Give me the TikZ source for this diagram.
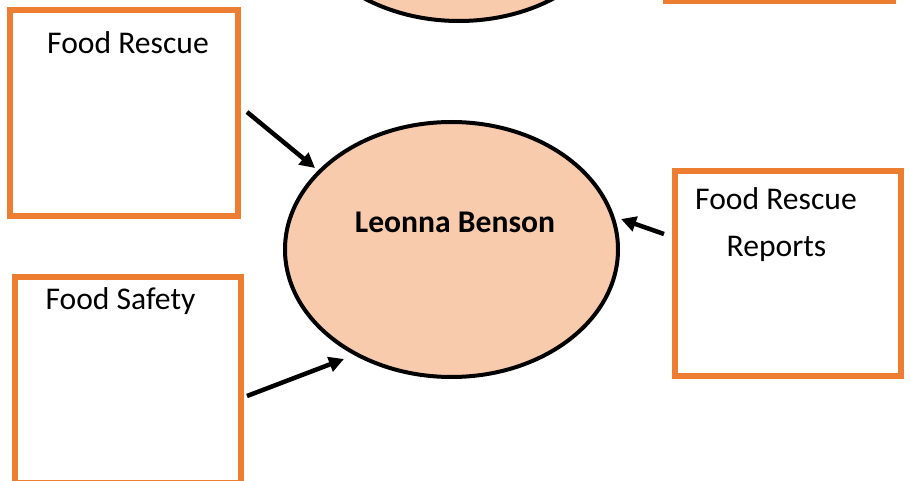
\documentclass[tikz,border=0pt]{standalone}
\usepackage{fontspec}
\setmainfont{Carlito}
\usetikzlibrary{shapes.geometric,arrows.meta}
\definecolor{boxorange}{HTML}{ED7D31}
\definecolor{peach}{HTML}{F8CBAD}
\tikzset{
  obox/.style={draw=boxorange, line width=6pt, fill=white, rectangle, inner sep=0pt},
  pell/.style={draw=black, line width=4pt, fill=peach, ellipse, inner sep=0pt,
               minimum width=333pt, minimum height=255pt},
  lbl/.style={anchor=base, inner sep=0pt, font=\fontsize{31.6}{38}\selectfont},
  arr/.style={line width=4.5pt, -{Triangle[length=15pt,width=15pt]}}
}
\begin{document}
\begin{tikzpicture}[x=1pt,y=-1pt]
\useasboundingbox (0,0) rectangle (911,481);
\clip (0,0) rectangle (911,481);
% partially visible shapes at the top
\node[pell] (topell) at (459,-106.5) {};
\node[obox, minimum width=227pt, minimum height=206pt] (toprect) at (779.5,-102) {};
% boxes
\node[obox, minimum width=228pt, minimum height=206pt] (fr) at (124,113) {};
\node[obox, minimum width=226pt, minimum height=206pt] (fs) at (128,380) {};
\node[obox, minimum width=226pt, minimum height=205pt] (frr) at (788,273.5) {};
% central ellipse
\node[pell] (lb) at (451.5,249.5) {};
% texts
\node[lbl] (frt) at (128,54) {Food Rescue};
\node[lbl] (fst) at (120.5,309) {Food Safety};
\node[lbl] (frrt1) at (776,210) {Food Rescue};
\node[lbl] (frrt2) at (776.5,257) {Reports};
\node[lbl, font=\fontsize{31.6}{38}\selectfont\bfseries] (lbt) at (455,233) {Leonna Benson};
% connector endpoints
\coordinate (a1s) at ([xshift=6pt]fr.east |- 0,112);
\coordinate (a1e) at (315,168);
\coordinate (a2s) at ([xshift=3pt]fs.east |- 0,396);
\coordinate (a2e) at (344,359);
\coordinate (a3s) at ([xshift=-8pt]frr.west |- 0,234);
\coordinate (a3e) at (621,219);
\draw[arr] (a1s) -- (a1e);
\draw[arr] (a2s) -- (a2e);
\draw[arr] (a3s) -- (a3e);
\end{tikzpicture}
\end{document}
